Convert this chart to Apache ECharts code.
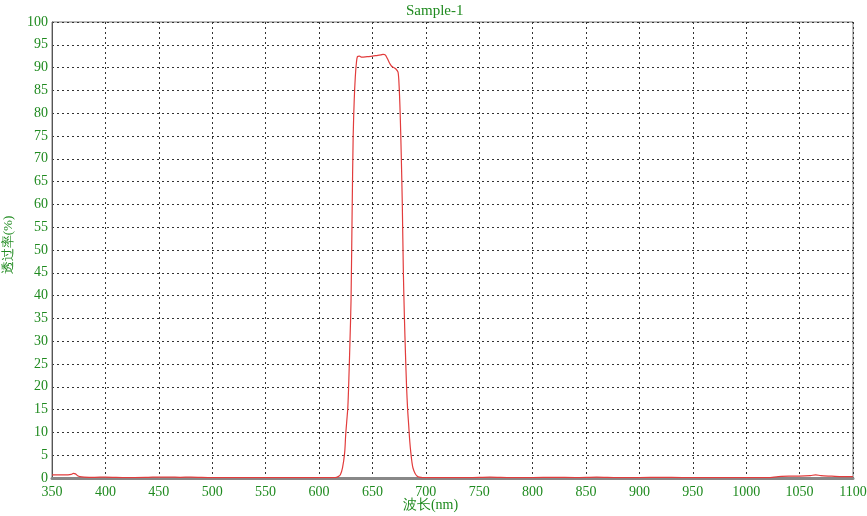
<!DOCTYPE html>
<html><head><meta charset="utf-8">
<script src="https://cdn.jsdelivr.net/npm/echarts@6/dist/echarts.min.js"></script>
<style>html,body{margin:0;padding:0;background:#fff}#c{width:867px;height:516px}</style>
</head><body><div id="c"></div>
<script>
const titleText = "Sample-1";
const xName = "波长(nm)";
const yName = "透过率(%)";
const wavelengths = [350,355,360,365,368,370,372,374,376,380,390,400,420,440,450,460,470,480,500,520,540,560,580,600,610,615,618,620,622,624,625,626,627,628,629,630,631,632,633,634,635,636,638,640,645,650,655,658,660,662,664,666,668,670,672,674,675,676,677,678,679,680,681,682,683,684,685,686,687,688,690,692,694,697,700,710,720,740,760,780,800,820,840,860,880,900,920,940,960,980,1000,1020,1030,1040,1050,1060,1065,1070,1080,1090,1100];
const transmittance = [0.7,0.7,0.7,0.7,0.8,1.0,0.9,0.5,0.3,0.2,0.15,0.2,0.1,0.15,0.2,0.2,0.15,0.2,0.1,0.1,0.1,0.1,0.1,0.1,0.1,0.1,0.3,0.7,2.2,5.5,9.5,12.5,15.5,22,30,39,58,75,83,88,91,92.4,92.5,92.3,92.4,92.5,92.7,92.8,92.9,92.8,92,91,90.3,90,89.7,89,86,80,71,60,45,35,27,20,15,11.5,8,5.5,3.5,2.2,1,0.4,0.2,0.1,0.1,0.1,0.1,0.1,0.2,0.1,0.1,0.15,0.1,0.2,0.1,0.1,0.15,0.1,0.1,0.1,0.1,0.1,0.3,0.4,0.4,0.5,0.7,0.5,0.4,0.3,0.3];
const xMin = 350, xMax = 1100, xStep = 50;
const yMin = 0, yMax = 100, yStep = 5;

const green = '#1f8a1f';
const font = '"Liberation Serif","DejaVu Serif",serif';
const chart = echarts.init(document.getElementById('c'));
chart.setOption({
  animation: false,
  backgroundColor: '#fff',
  title: { text: titleText, left: 401, top: -1, textStyle: { color: green, fontFamily: font, fontSize: 15, fontWeight: 'normal' } },
  grid: { left: 52, right: 14, top: 22, bottom: 38, show: true, borderColor: '#777', borderWidth: 1, containLabel: false, outerBoundsMode: 'none' },
  xAxis: {
    type: 'value', min: xMin, max: xMax, interval: xStep,
    name: xName, nameLocation: 'middle', nameGap: 20, nameMoveOverlap: false,
    nameTextStyle: { color: green, fontFamily: font, fontSize: 14, padding: [0, 44, 0, 0] },
    axisLine: { show: true, lineStyle: { color: '#888', width: 3 } },
    axisTick: { show: false },
    axisLabel: { color: green, fontFamily: font, fontSize: 14, margin: 7, formatter: v => String(v), hideOverlap: false },
    splitLine: { show: true, lineStyle: { color: '#333', type: [2, 3], width: 1 } }
  },
  yAxis: {
    type: 'value', min: yMin, max: yMax, interval: yStep,
    name: yName, nameLocation: 'middle', nameGap: 37, nameRotate: 90, nameMoveOverlap: false,
    nameTextStyle: { color: green, fontFamily: font, fontSize: 13, padding: [0, 0, 0, 10] },
    axisLine: { show: true, lineStyle: { color: '#555', width: 1 } },
    axisTick: { show: false },
    axisLabel: { color: green, fontFamily: font, fontSize: 14, margin: 4, formatter: v => String(v), hideOverlap: false },
    splitLine: { show: true, lineStyle: { color: '#333', type: [2, 3], width: 1 } }
  },
  series: [{
    type: 'line',
    data: wavelengths.map((w, i) => [w, transmittance[i]]),
    showSymbol: false, symbol: 'none', smooth: 0.3,
    lineStyle: { color: '#e23c3c', width: 1.2 }
  }]
});
</script></body></html>
